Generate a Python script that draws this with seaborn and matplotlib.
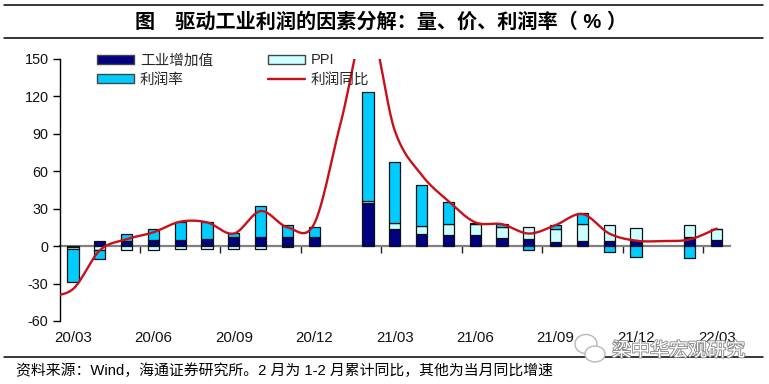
import numpy as np
import pandas as pd
import matplotlib
matplotlib.use('Agg')
import matplotlib.pyplot as plt
import matplotlib.patheffects as pe
from matplotlib.patches import Patch, Ellipse
from matplotlib.lines import Line2D
import seaborn as sns

# months on the bar axis, 21/01 and 22/01 have no bars
months = ['20/03', '20/04', '20/05', '20/06', '20/07', '20/08', '20/09', '20/10', '20/11', '20/12',
          '21/01', '21/02', '21/03', '21/04', '21/05', '21/06', '21/07', '21/08', '21/09', '21/10',
          '21/11', '21/12', '22/01', '22/02', '22/03']
tick_labels = ['20/03', '20/06', '20/09', '20/12', '21/03', '21/06', '21/09', '21/12', '22/03']
y_ticks = [-60, -30, 0, 30, 60, 90, 120, 150]

output = [-1, 4, 4.4, 4.8, 5, 5.8, 7, 7, 7, 7, np.nan, 34.5, 14, 9.5, 8.5, 8.8, 6.4, 5.3, 3.2, 4,
          4, 4, np.nan, 7.5, 5]
ppi = [-1.5, -3, -3.5, -3, -2, -2, -2, -2, -1, 0, np.nan, 1.5, 4.5, 6.5, 9, 9, 9, 9.6, 10.7, 13.3,
       13, 10.7, np.nan, 9, 8.6]
margin = [-26.5, -7.5, 5.5, 9, 14.5, 13.5, 3.5, 25, 9.5, 8.5, np.nan, 87, 49, 32.5, 18, 0.4, 2.5,
          -3.5, 2.9, 9.4, -4.5, -9, np.nan, -9.6, 0.4]

# profit line starts one month before the first bar, that point is cut off by the axis
profit_months = list(range(-1, 25))
profit = [-40, -34.5, -3.5, 5.5, 11, 19.5, 19, 10, 28, 15, 18, 100, 179, 92.5, 57, 36, 19, 17.5, 10,
          16.8, 25.6, 10, 4.3, 4, 5.3, 14]

NAVY = '#000080'
PALE = '#CCFFFF'
CYAN = '#00CCFF'
RED = '#C8101A'


def excel_smooth(x, y, n=24):
    # same kind of smoothing as an Excel smoothed line (Catmull-Rom through the points)
    x = np.asarray(x, float)
    y = np.asarray(y, float)
    px = np.r_[x[0], x, x[-1]]
    py = np.r_[y[0], y, y[-1]]
    xs, ys = [], []
    t = np.linspace(0, 1, n, endpoint=False)
    for i in range(1, len(px) - 2):
        for a, out in ((px, xs), (py, ys)):
            p0, p1, p2, p3 = a[i - 1], a[i], a[i + 1], a[i + 2]
            out.extend(0.5 * (2 * p1 + (p2 - p0) * t + (2 * p0 - 5 * p1 + 4 * p2 - p3) * t ** 2
                              + (3 * p1 - p0 - 3 * p2 + p3) * t ** 3))
    xs.append(x[-1])
    ys.append(y[-1])
    return np.array(xs), np.array(ys)


sns.set_theme(style='white')
plt.rcParams['font.family'] = ['Liberation Sans', 'Noto Sans CJK SC']
plt.rcParams['axes.unicode_minus'] = False

W, H = 769, 384
fig = plt.figure(figsize=(W / 100, H / 100), dpi=100)
ax = fig.add_axes([59.5 / W, 1 - 321 / H, (730 - 59.5) / W, (321 - 58.7) / H])

# stacked bars, positive and negative parts pile up separately
df = pd.DataFrame({'month': months, 'output': output, 'ppi': ppi, 'margin': margin}).dropna()
pos_base = np.zeros(len(df))
neg_base = np.zeros(len(df))
for col, color in (('output', NAVY), ('ppi', PALE), ('margin', CYAN)):
    vals = df[col].to_numpy()
    base = np.where(vals >= 0, pos_base, neg_base)
    sns.barplot(x=df['month'].to_numpy(), y=vals, order=months, bottom=base, color=color, width=0.42,
                saturation=1, errorbar=None, edgecolor='#111111', linewidth=0.9, ax=ax, zorder=2)
    pos_base = pos_base + np.clip(vals, 0, None)
    neg_base = neg_base + np.clip(vals, None, 0)

cx, cy = excel_smooth(profit_months, profit)
sns.lineplot(x=cx, y=cy, sort=False, estimator=None, color=RED, linewidth=1.7, ax=ax, zorder=4)

ax.set_xlim(-0.5, 24.5)
ax.set_ylim(-60, 150)
ax.set_xlabel('')
ax.set_ylabel('')
ax.set_yticks(y_ticks)
ax.set_yticklabels([str(v) for v in y_ticks])
ax.set_xticks(list(range(0, 25, 3)))
ax.set_xticklabels(tick_labels)
ax.tick_params(axis='x', length=0, pad=7, labelsize=10.8, colors='#111111')
ax.tick_params(axis='y', length=5, width=1, color='black', left=True, pad=3, labelsize=10.4,
               labelcolor='#111111')
for s in ['top', 'right', 'bottom']:
    ax.spines[s].set_visible(False)
ax.spines['left'].set_color('black')
ax.spines['left'].set_linewidth(1)

# zero line carries the quarter ticks
zero_axis = ax.secondary_xaxis(60 / 210)
zero_axis.set_xticks([2.5, 5.5, 8.5, 11.5, 14.5, 17.5, 20.5, 23.5])
zero_axis.set_xticklabels([])
zero_axis.tick_params(length=5, width=1, color='#222222', direction='out')
zero_axis.spines['bottom'].set_color('#808080')
zero_axis.spines['bottom'].set_linewidth(1.6)
for s in ['top', 'left', 'right']:
    zero_axis.spines[s].set_visible(False)

handles = [Patch(facecolor=NAVY, edgecolor='#444444', label='工业增加值'),
           Patch(facecolor=CYAN, edgecolor='#444444', label='利润率'),
           Patch(facecolor=PALE, edgecolor='#444444', label='PPI'),
           Line2D([0], [0], color=RED, lw=1.7, label='利润同比')]
ax.legend(handles=handles, ncol=2, frameon=False, fontsize=10.5, loc='upper left',
          bbox_to_anchor=(0.056, 1.02), handlelength=2.55, handleheight=0.55, handletextpad=0.4,
          columnspacing=3.75, labelspacing=0.36, borderpad=0, borderaxespad=0)

# rules and texts around the chart
for y in (4.5, 38, 357):
    fig.add_artist(Line2D([4 / W, 763 / W], [1 - y / H, 1 - y / H], color='black', lw=1.1))
fig.text(381 / W, 1 - 21.5 / H, '图　驱动工业利润的因素分解：量、价、利润率（ % ）', fontsize=14.5, fontweight='bold',
         ha='center', va='center', color='black')
fig.text(16 / W, 1 - 370.5 / H, '资料来源：Wind，海通证券研究所。2 月为 1-2 月累计同比，其他为当月同比增速', fontsize=10.7,
         ha='left', va='center', color='black')

# watermark
fig.text(612 / W, 1 - 351 / H, '梁中华宏观研究', fontsize=13.7, ha='left', va='center', color='white',
         path_effects=[pe.withStroke(linewidth=1.3, foreground='#8a8a8a')], zorder=10)
for ex, ey, ew, eh in ((586, 344, 22, 19), (595, 354, 20, 16)):
    fig.add_artist(Ellipse((ex / W, 1 - ey / H), ew / W, eh / H, facecolor='white', edgecolor='#b8b8b8',
                           lw=1, transform=fig.transFigure, zorder=9))

fig.savefig('out.png', dpi=100)
